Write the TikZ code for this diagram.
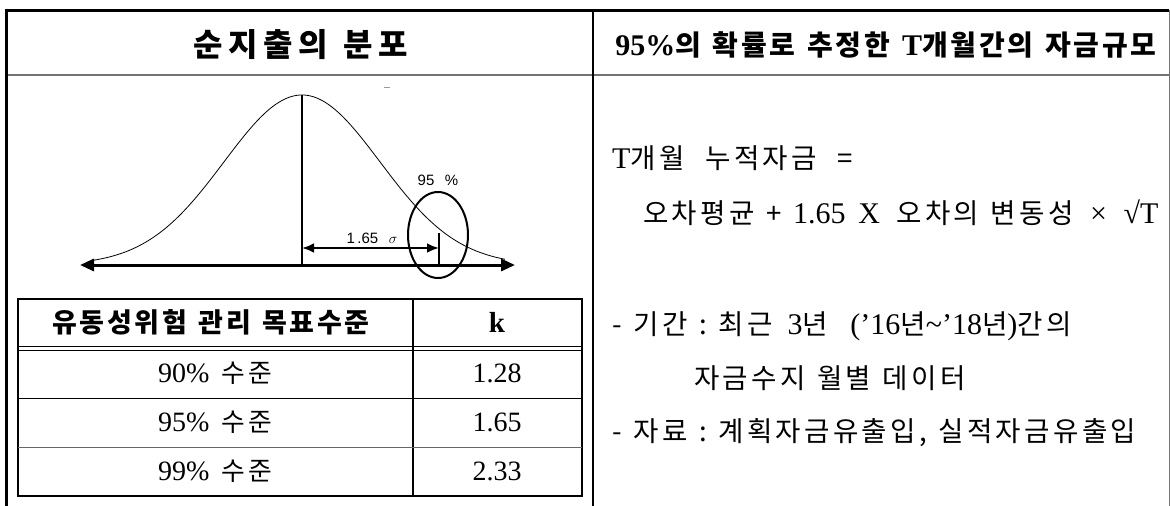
\documentclass[tikz,border=0pt]{standalone}
\usepackage{fontspec}
\setmainfont{Liberation Serif}
\setsansfont{Liberation Sans}
\newfontfamily\kr{Noto Sans CJK KR}[Scale=0.92, LetterSpace=12]
\newfontfamily\krb{Noto Sans CJK KR}[LetterSpace=10]
\newfontfamily\krh{Noto Sans CJK KR}[LetterSpace=17]
\usetikzlibrary{arrows.meta,shapes.geometric}
\newcommand\gp{\hspace{0.42em}}
\newcommand\mgp{\hspace{0.55em}}
\newcommand\wgp{\hspace{0.75em}}
\begin{document}
\begin{tikzpicture}[x=1pt,y=-1pt,
  hdr/.style={font=\fontsize{29}{32}\selectfont\bfseries, inner sep=0pt},
  body/.style={font=\fontsize{30}{32}\selectfont, anchor=base west, inner sep=0pt},
  cell/.style={font=\fontsize{28}{30}\selectfont, inner sep=0pt},
  figtxt/.style={font=\sffamily\fontsize{15}{17}\selectfont, inner sep=0pt},
  frame/.style={line width=1.4pt},
  thin/.style={line width=1pt},
  axisline/.style={line width=3pt, {Triangle[length=14pt,width=12pt]}-{Triangle[length=14pt,width=12pt]}},
  dimline/.style={line width=2.5pt, {Latex[length=12pt,width=10pt]}-{Latex[length=12pt,width=10pt]}}]
\useasboundingbox (0,0) rectangle (1170,506);
\fill[white] (0,0) rectangle (1170,506);
% outer frame
\draw[line width=3pt] (6.5,10) -- (1169,10);
\draw[line width=3pt] (6.5,8.5) -- (6.5,506);
\draw[line width=1pt, black!55] (1169,10) -- (1169,506);
\draw[line width=2pt, black!55] (8,75) -- (1169,75);
\draw[frame] (593,10) -- (593,506);
% headers
\node[hdr, font=\fontsize{32}{34}\selectfont\bfseries] (hL) at (301,45) {\krh 순지출의\hspace{0.5em}분포};
\node[hdr, font=\fontsize{30}{32}\selectfont\bfseries] (hR) at (886,45) {95\%{\krb\fontsize{28}{32}\selectfont 의\gp 확률로\gp 추정한\gp }T{\krb\fontsize{28}{32}\selectfont 개월간의\gp 자금규모}};
% distribution figure
\coordinate (axL) at (80,265);
\coordinate (axR) at (515,265);
\coordinate (peak) at (302,95);
\coordinate (base) at (302,265);
\coordinate (z) at (439,248);
\coordinate (m) at (302,248);
\coordinate (tickT) at (439,233);
\coordinate (tickB) at (439,265);
\draw[line width=0.8pt, domain=92:505, samples=160, smooth] plot (\x, {265-170*exp(-((\x-302)/78)^2/2)});
\draw[axisline] (axL) -- (axR);
\draw[line width=2pt] (peak) -- (base);
\draw[dimline] (m) -- (z);
\draw[line width=2pt] (tickT) -- (tickB);
\node[draw, line width=2pt, ellipse, minimum width=60pt, minimum height=86pt, inner sep=0pt] (ell) at (438,235) {};
\node[figtxt] (p95) at (438,180) {95\hspace{0.7em}\%};
\node[figtxt] (sig) at (372,238) {1\,.65\hspace{0.7em}$\sigma$};
\draw[black!40, line width=0.8pt] (384,87) -- (390,87);
% inner table
\draw[frame] (18,299) rectangle (582,496);
\draw[frame] (413,299) -- (413,496);
\draw[thin] (18,346.5) -- (582,346.5);
\draw[thin] (18,350) -- (582,350);
\draw[thin] (18,398) -- (582,398);
\draw[thin, black!60] (18,447) -- (582,447);
\node[cell, font=\fontsize{27}{30}\selectfont\bfseries] (th1) at (211,322) {\krb 유동성위험\gp 관리\gp 목표수준};
\node[cell, font=\fontsize{29}{30}\selectfont\bfseries] (th2) at (497,322) {k};
\node[cell] (r1a) at (215,373) {90\%\gp{\kr 수준}};
\node[cell] (r1b) at (497,373) {1.28};
\node[cell] (r2a) at (215,422) {95\%\gp{\kr 수준}};
\node[cell] (r2b) at (497,422) {1.65};
\node[cell] (r3a) at (215,471) {99\%\gp{\kr 수준}};
\node[cell] (r3b) at (497,471) {2.33};
% right body
\node[body] (f1) at (612,168) {T{\kr 개월\wgp 누적자금\wgp =}};
\node[body] (f2) at (643,223) {{\kr 오차평균\gp +\gp }1.65\gp X\mgp{\kr 오차의\gp 변동성}\mgp ×\mgp √T};
\node[body] (d1) at (612,334) {{\kr -\gp 기간\gp :\gp 최근\mgp }3{\kr 년}\hspace{0.75em}(’16{\kr 년}\textasciitilde’18{\kr 년}){\kr 간의}};
\node[body] (d2) at (694,388) {\kr 자금수지\gp 월별\gp 데이터};
\node[body] (d3) at (612,441) {\kr -\gp 자료\gp :\gp 계획자금유출입,\gp 실적자금유출입};
\end{tikzpicture}
\end{document}
